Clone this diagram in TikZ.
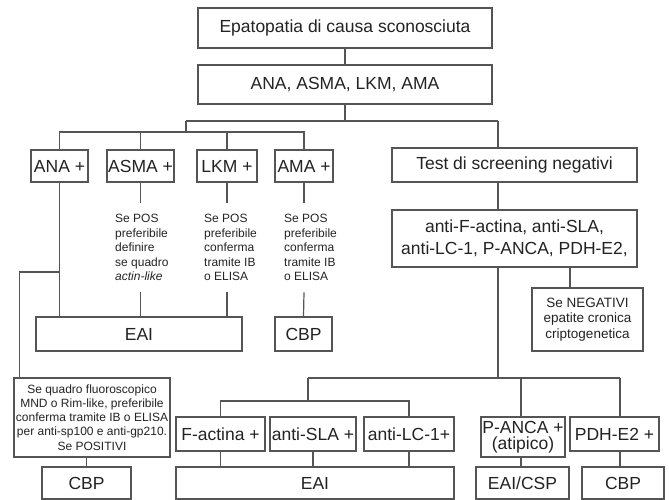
\documentclass[tikz,border=0pt]{standalone}
\usepackage{fontspec}
\setmainfont{Liberation Sans}
\usetikzlibrary{positioning,calc}
\definecolor{wire}{RGB}{85,85,85}
\definecolor{ink}{RGB}{35,35,35}
\tikzset{
  box/.style={draw=wire,line width=1.2pt,fill=white,text=ink,inner sep=1pt,
    minimum width=#1,minimum height=34pt,align=center,
    font=\fontsize{17.5}{21.5}\selectfont},
  box/.default=60pt,
  small box/.style={box=#1,font=\fontsize{12}{14.2}\selectfont},
  note/.style={text=ink,align=left,inner xsep=0pt,inner ysep=11pt,anchor=north west,
    font=\fontsize{12}{14.6}\selectfont},
  link/.style={draw=wire,line width=1.2pt},
}

\begin{document}
\begin{tikzpicture}[x=1pt,y=-1pt]
  \useasboundingbox (0,0) rectangle (669,500);
  % top of the tree
  \node[box=294pt,minimum height=40pt] (cause) at (345,28) {Epatopatia di causa sconosciuta};
  \node[box=294pt,minimum height=39pt] (panel) at (345,84.5) {ANA, ASMA, LKM, AMA};
  \coordinate (hub) at (186,121);
  \coordinate (spine) at (498,121);
  \coordinate (bus) at (186,132);
  % positive screening
  \node[box=57pt,minimum height=32pt] (ana) at (59.5,166) {ANA +};
  \node[box=67pt,minimum height=32pt] (asma) at (140.5,166) {ASMA +};
  \node[box=60pt,minimum height=32pt] (lkm) at (227,166) {LKM +};
  \node[box=58pt,minimum height=32pt] (ama) at (304,166) {AMA +};
  \node[note] (asmanote) at (115,203) {Se POS\\preferibile\\definire\\se quadro\\\textit{actin-like}};
  \node[note] (lkmnote) at (204,203) {Se POS\\preferibile\\conferma\\tramite IB\\o ELISA};
  \node[note] (amanote) at (284,203) {Se POS\\preferibile\\conferma\\tramite IB\\o ELISA};
  \node[box=206pt] (eaitop) at (139,334) {EAI};
  \node[box=57pt] (cbptop) at (303.5,334) {CBP};
  \node[small box=156pt,minimum height=79pt] (quadro) at (92,417.5)
    {Se quadro fluoroscopico\\MND o Rim-like, preferibile\\conferma tramite IB o ELISA\\per anti-sp100 e anti-gp210.\\Se POSITIVI};
  \node[box=89pt,minimum height=32pt] (cbpleft) at (86.5,483) {CBP};
  % negative screening
  \node[box=245pt] (test) at (514.5,165) {Test di screening negativi};
  \node[box=245pt,minimum height=57pt] (second) at (514.5,238.5) {anti-F-actina, anti-SLA,\\anti-LC-1, P-ANCA, PDH-E2,};
  \node[small box=111pt,minimum height=63pt,font=\fontsize{13.5}{15.7}\selectfont] (crypto) at (587.5,319.5)
    {Se NEGATIVI\\epatite cronica\\criptogenetica};
  \coordinate (cryptotap) at ([xshift=-17.5pt]crypto.north);
  \coordinate (ltap) at (308,378);
  \coordinate (ptap) at (521,378);
  \coordinate (dtap) at (620,378);
  \coordinate (fbus) at (308,401);
  \node[box=89pt] (factina) at (220.5,434) {F-actina +};
  \node[box=86pt] (antisla) at (313,434) {anti-SLA +};
  \node[box=90pt] (antilc) at (409,434) {anti-LC-1+};
  \node[box=84pt,minimum height=40pt,font=\fontsize{17.5}{16.5}\selectfont] (panca) at (523,437) {P-ANCA +\\(atipico)};
  \node[box=89pt] (pdh) at (614.5,434) {PDH-E2 +};
  \node[box=278pt,minimum height=32pt] (eaibottom) at (315,483) {EAI};
  \node[box=93pt,minimum height=32pt] (eaicsp) at (522.5,483) {EAI/CSP};
  \node[box=82pt,minimum height=32pt] (cbpright) at (623,483) {CBP};

  % connectors
  \draw[link] (cause) -- (panel);
  \draw[link] (panel.south) -- (panel.south |- hub);
  \draw[link] (hub) -- (spine);
  \draw[link] (hub) -- (bus);
  \draw[link] (ana.north) |- (bus) -| (ama.north);
  \draw[link] (asma.north) -- (asma.north |- bus);
  \draw[link] (lkm.north) -- (lkm.north |- bus);
  \draw[link] (asma.south) -- (asma.south |- asmanote.north);
  \draw[link] (asma.south |- asmanote.south) -- (asma.south |- eaitop.north);
  \draw[link] (lkm.south) -- (lkm.south |- lkmnote.north);
  \draw[link] (lkm.south |- lkmnote.south) -- (lkm.south |- eaitop.north);
  \draw[link] (ama.south) -- (ama.south |- amanote.north);
  \draw[link] (ama.south |- amanote.south) -- (cbptop.north);
  \draw[link] (ana.south) -- (ana.south |- eaitop.north);
  \draw[link] (ana.south |- 0,272) -| ([xshift=6pt]quadro.north west);
  \draw[link] (cbpleft.north |- quadro.south) -- (cbpleft.north);
  \draw[link] (spine) -- (spine |- test.north);
  \draw[link] (spine |- test.south) -- (spine |- second.north);
  \draw[link] (spine |- second.south) -- (spine |- ltap);
  \draw[link] (cryptotap |- second.south) -- (cryptotap);
  \draw[link] (ltap) -- (dtap);
  \draw[link] (ltap) -- (fbus);
  \draw[link] (factina.north) |- (fbus) -| (antilc.north);
  \draw[link] (ptap) -- (ptap |- panca.north);
  \draw[link] (dtap) -- (dtap |- pdh.north);
  \draw[link] (factina.south) -- (factina.south |- eaibottom.north);
  \draw[link] (antisla.south) -- (antisla.south |- eaibottom.north);
  \draw[link] (antilc.south) -- (antilc.south |- eaibottom.north);
  \draw[link] (ptap |- panca.south) -- (ptap |- eaicsp.north);
  \draw[link] (dtap |- pdh.south) -- (dtap |- cbpright.north);
\end{tikzpicture}
\end{document}
